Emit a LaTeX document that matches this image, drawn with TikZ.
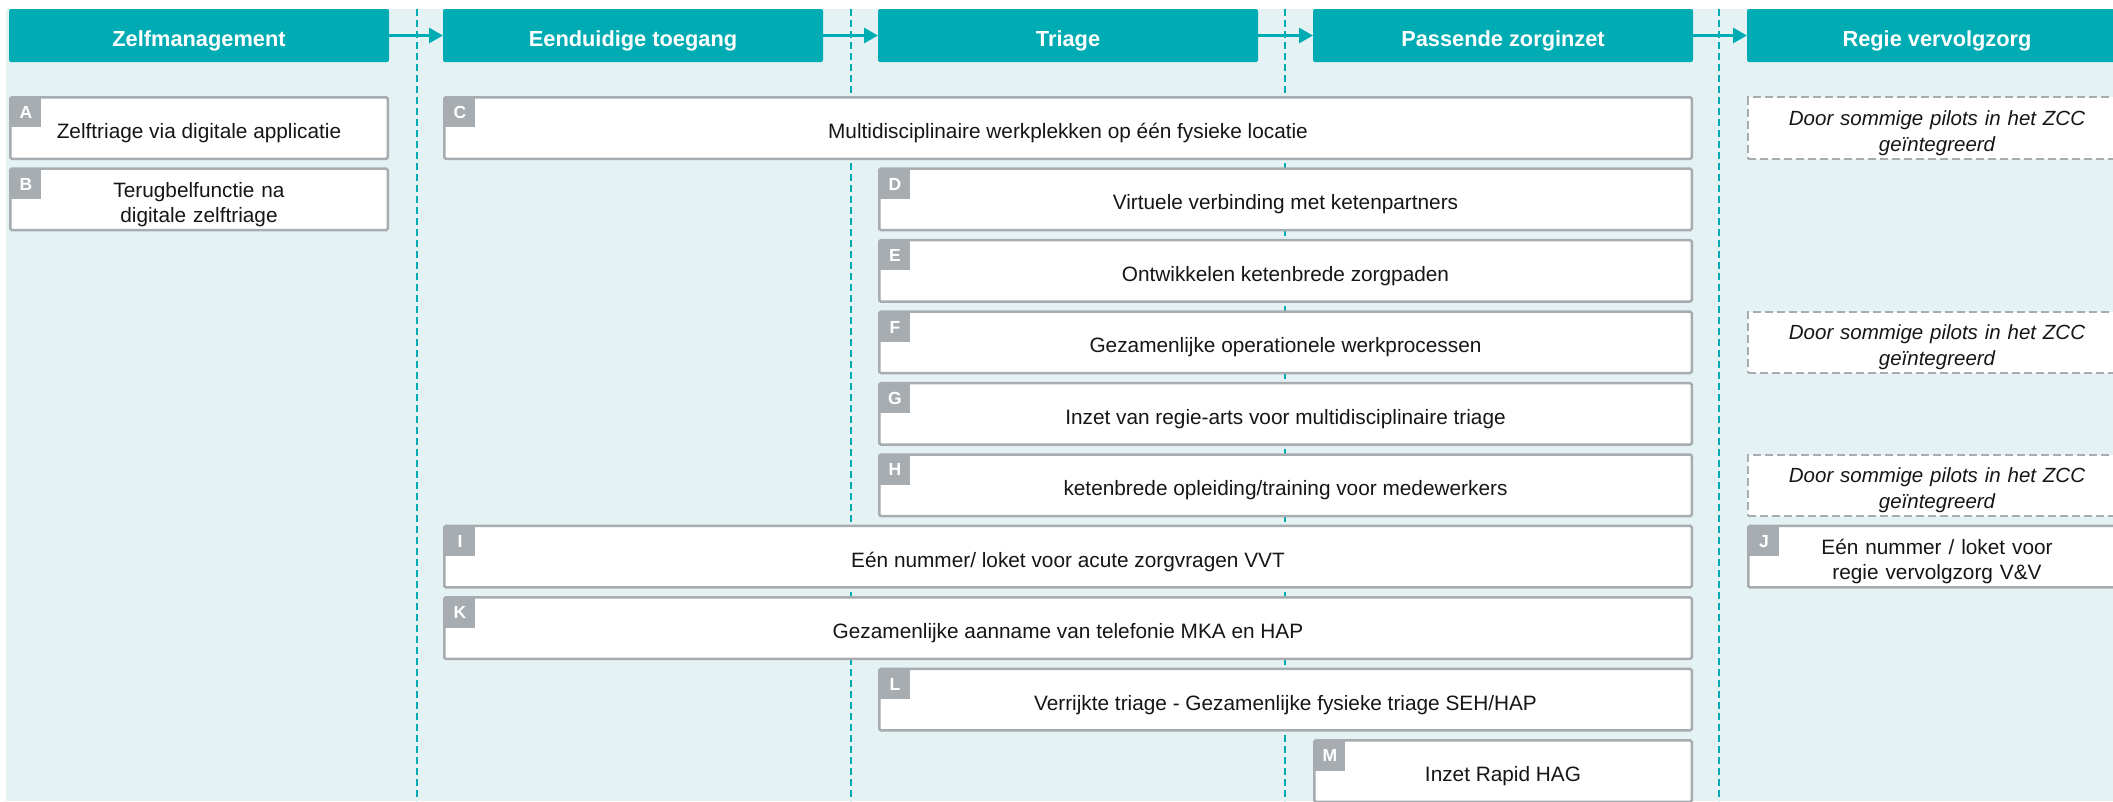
\documentclass[tikz,border=0pt]{standalone}
\usepackage{fontspec}
\setmainfont{Liberation Sans}
\usetikzlibrary{arrows.meta}
\definecolor{zcteal}{RGB}{0,172,179}
\definecolor{zcbg}{RGB}{228,242,244}
\definecolor{zcgray}{RGB}{166,172,175}
\definecolor{zctext}{RGB}{22,22,22}
\begin{document}
\begin{tikzpicture}[x=1pt,y=-1pt,
  kop/.style={fill=zcteal, rounded corners=2pt, anchor=north west, minimum width=380pt, minimum height=53pt,
    inner sep=0pt, outer sep=0pt, text=white, font=\fontsize{21.8}{25}\selectfont\bfseries, text height=22pt, text depth=1pt},
  pijl/.style={draw=zcteal, line width=3pt, -{Triangle[length=14pt,width=15pt]}},
  item/.style={draw=zcgray, line width=2.5pt, fill=white, rounded corners=1.5pt, anchor=north west,
    minimum height=61.5pt, inner sep=0pt, outer sep=0pt, text=zctext,
    font=\fontsize{20.8}{25.5}\selectfont, text height=22.5pt, text depth=1.5pt},
  twoline/.style={text width=370pt, align=center, text height=25pt, text depth={}},
  note/.style={draw=zcgray, line width=2pt, dash pattern=on 8pt off 4pt, fill=white, anchor=north west,
    minimum width=377.5pt, minimum height=61.5pt, inner sep=0pt, outer sep=0pt, text=zctext,
    font=\fontsize{20.5}{25.5}\selectfont\itshape, text width=370pt, align=center, text height=25pt},
  tag/.style={fill=zcgray, anchor=north west, minimum width=31pt, minimum height=30pt, inner sep=0pt,
    text=white, font=\fontsize{17.5}{19}\selectfont\bfseries, text height=12.5pt, text depth=0pt}]
\useasboundingbox (0,0) rectangle (2113,801);
\fill[zcbg] (6,9) rectangle (2113,801);
\foreach \x in {417,851,1285,1719}
  \draw[zcteal, line width=1.5pt, dash pattern=on 7pt off 4pt] (\x,9) -- (\x,801);

\node[kop] (zelf) at (9,9) {Zelfmanagement};
\node[kop] (toeg) at (443,9) {Eenduidige toegang};
\node[kop] (tria) at (878,9) {Triage};
\node[kop] (pass) at (1313,9) {Passende zorginzet};
\node[kop] (regie) at (1747,9) {Regie vervolgzorg};
\draw[pijl] (zelf) -- (toeg);
\draw[pijl] (toeg) -- (tria);
\draw[pijl] (tria) -- (pass);
\draw[pijl] (pass) -- (regie);

\node[item, minimum width=377.5pt] (A) at (10.25,97.25) {Zelftriage via digitale applicatie};
\node[item, twoline, minimum width=377.5pt] (B) at (10.25,168.7) {Terugbelfunctie na\\digitale zelftriage};
\node[item, minimum width=1247.5pt] (C) at (444.25,97.25) {Multidisciplinaire werkplekken op één fysieke locatie};
\node[item, minimum width=812.5pt] (D) at (879.25,168.7) {Virtuele verbinding met ketenpartners};
\node[item, minimum width=812.5pt] (E) at (879.25,240.15) {Ontwikkelen ketenbrede zorgpaden};
\node[item, minimum width=812.5pt] (F) at (879.25,311.6) {Gezamenlijke operationele werkprocessen};
\node[item, minimum width=812.5pt] (G) at (879.25,383.05) {Inzet van regie-arts voor multidisciplinaire triage};
\node[item, minimum width=812.5pt] (H) at (879.25,454.5) {ketenbrede opleiding/training voor medewerkers};
\node[item, minimum width=1247.5pt] (I) at (444.25,525.95) {Eén nummer/ loket voor acute zorgvragen VVT};
\node[item, twoline, minimum width=377.5pt] (J) at (1748.25,525.95) {Eén nummer / loket voor\\regie vervolgzorg V\&V};
\node[item, minimum width=1247.5pt] (K) at (444.25,597.4) {Gezamenlijke aanname van telefonie MKA en HAP};
\node[item, minimum width=812.5pt] (L) at (879.25,668.85) {Verrijkte triage - Gezamenlijke fysieke triage SEH/HAP};
\node[item, minimum width=377.5pt] (M) at (1314.25,740.3) {Inzet Rapid HAG};

\node[note] (n1) at (1748.25,97.25) {Door sommige pilots in het ZCC\\geïntegreerd};
\node[note] (n2) at (1748.25,311.6) {Door sommige pilots in het ZCC\\geïntegreerd};
\node[note] (n3) at (1748.25,454.5) {Door sommige pilots in het ZCC\\geïntegreerd};

\node[tag] (tA) at (A.north west) {A};
\node[tag] (tB) at (B.north west) {B};
\node[tag] (tC) at (C.north west) {C};
\node[tag] (tD) at (D.north west) {D};
\node[tag] (tE) at (E.north west) {E};
\node[tag] (tF) at (F.north west) {F};
\node[tag] (tG) at (G.north west) {G};
\node[tag] (tH) at (H.north west) {H};
\node[tag] (tI) at (I.north west) {I};
\node[tag] (tJ) at (J.north west) {J};
\node[tag] (tK) at (K.north west) {K};
\node[tag] (tL) at (L.north west) {L};
\node[tag] (tM) at (M.north west) {M};
\end{tikzpicture}
\end{document}
